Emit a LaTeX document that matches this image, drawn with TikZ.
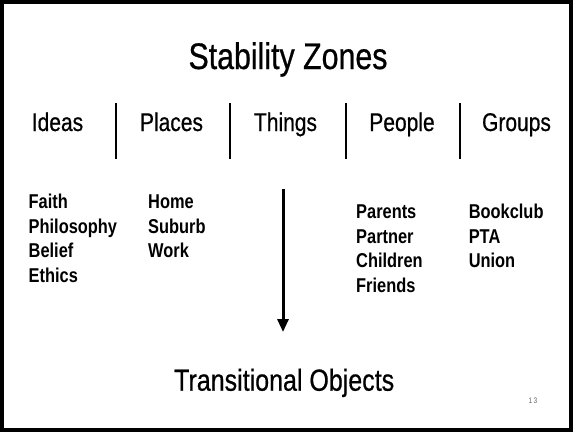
\documentclass[tikz,border=0pt]{standalone}
\usepackage{fontspec}
\setmainfont{Liberation Sans}[FakeStretch=0.82]
\newfontfamily\headfont{Liberation Sans}[FakeStretch=0.82, FakeBold=0.6]
\usetikzlibrary{arrows.meta}
\usetikzlibrary{positioning}

\tikzset{
  heading/.style = {anchor = base, inner sep = 0pt, font = \headfont\fontsize{25.6}{30}\selectfont},
  itemlist/.style = {anchor = base west, inner sep = 0pt, align = left,
    font = \fontsize{20}{24.6}\selectfont\bfseries},
  divider/.style = {line width = 1.5pt},
}

\begin{document}
\begin{tikzpicture}[x = 1pt, y = -1pt]
\useasboundingbox (0, 0) rectangle (573, 432);
\draw[line width = 4pt] (2, 2) rectangle (571, 430);

\node[anchor = base, inner sep = 0pt, font = \headfont\fontsize{37}{40}\selectfont] (title) at (288, 69) {Stability Zones};

% the five zones
\node[heading] (ideas) at (57.5, 131) {Ideas};
\node[heading] (places) at (171.5, 131) {Places};
\node[heading] (things) at (285.5, 131) {Things};
\node[heading] (people) at (402, 131) {People};
\node[heading] (groups) at (516.5, 131) {Groups};

\foreach \x in {116, 230, 346, 460}
  \draw[divider] (\x, 103) -- (\x, 159);

% lists are placed by the baseline of their last line
\node[itemlist] (ideaslist) at (28.5, 282.5) {Faith\\Philosophy\\Belief\\Ethics};
\node[itemlist] (placeslist) at (148, 257.9) {Home\\Suburb\\Work};
\node[itemlist] (peoplelist) at (356, 292.4) {Parents\\Partner\\Children\\Friends};
\node[itemlist] (groupslist) at (468.6, 267.8) {Bookclub\\PTA\\Union};

\coordinate (from) at (283, 189);
\coordinate (to) at (283, 332);
\draw[line width = 3pt, -{Triangle[width = 11pt, length = 13pt]}] (from) -- (to);

\node[anchor = base, inner sep = 0pt, font = \headfont\fontsize{30.5}{33}\selectfont] (objects) at (284.2, 390.7) {Transitional Objects};

\node[anchor = base, inner sep = 0pt, text = black!60, font = \fontsize{8}{9}\selectfont] (page) at (533, 403) {1\,3};
\end{tikzpicture}
\end{document}
